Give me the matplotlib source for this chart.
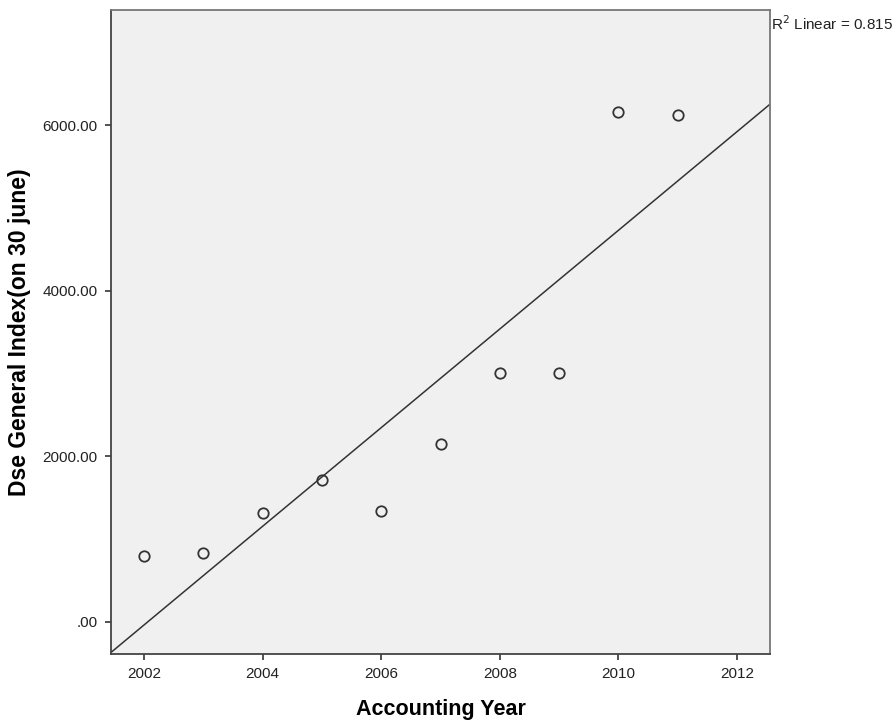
import matplotlib
matplotlib.use("Agg")
import matplotlib.pyplot as plt
import numpy as np
from matplotlib.ticker import FuncFormatter

years = [2002, 2003, 2004, 2005, 2006, 2007, 2008, 2009, 2010, 2011]
dse_index = [794, 834, 1317, 1712, 1341, 2150, 3001, 3005, 6154, 6118]
x_ticks = [2002, 2004, 2006, 2008, 2010, 2012]
y_ticks = [0, 2000, 4000, 6000]

plt.rcParams['font.family'] = ['Liberation Sans', 'DejaVu Sans']

fig = plt.figure(figsize=(8.96, 7.22), dpi=100)
ax = fig.add_axes([111/896, 1-654/722, (770-111)/896, (654-10)/722])
ax.set_facecolor('#F0F0F0')

x = np.array(years, dtype=float)
y = np.array(dse_index, dtype=float)
slope, intercept = np.polyfit(x, y, 1)
pred = slope * x + intercept
r2 = 1 - np.sum((y - pred) ** 2) / np.sum((y - y.mean()) ** 2)

xlim = (2001.44, 2012.56)
ylim = (-390, 7390)
xs = np.array(xlim)
ax.plot(xs, slope * xs + intercept, color='#333333', lw=1.1, zorder=2)
ax.plot(x, y, 'o', mfc='none', mec='#333333', mew=1.3, ms=7.5, zorder=3)

ax.set_xlim(*xlim)
ax.set_ylim(*ylim)
ax.set_xticks(x_ticks)
ax.set_yticks(y_ticks)

def fmt(v, pos):
    s = f"{v:.2f}"
    if s.startswith("0"):
        s = s[1:]
    return s
ax.yaxis.set_major_formatter(FuncFormatter(fmt))

ax.tick_params(direction='out', length=4.5, width=1.2, color='#333333',
               labelsize=11, labelcolor='#222222', pad=5)
for sp in ax.spines.values():
    sp.set_color('#444444')
    sp.set_linewidth(1.3)
ax.spines['right'].set_color('#777777')
ax.spines['top'].set_color('#777777')

ax.set_xlabel('Accounting Year', fontsize=15.5, fontweight='bold', labelpad=13)
ax.set_ylabel('Dse General Index(on 30 june)', fontsize=16.5, fontweight='bold')
ax.yaxis.set_label_coords(-0.121, 0.5)

fig.text(771/896, 1-24/722, f"R$^2$ Linear = {r2:.3f}", fontsize=11, ha='left', va='center', color='#222222')

fig.savefig('out.png', dpi=100)
